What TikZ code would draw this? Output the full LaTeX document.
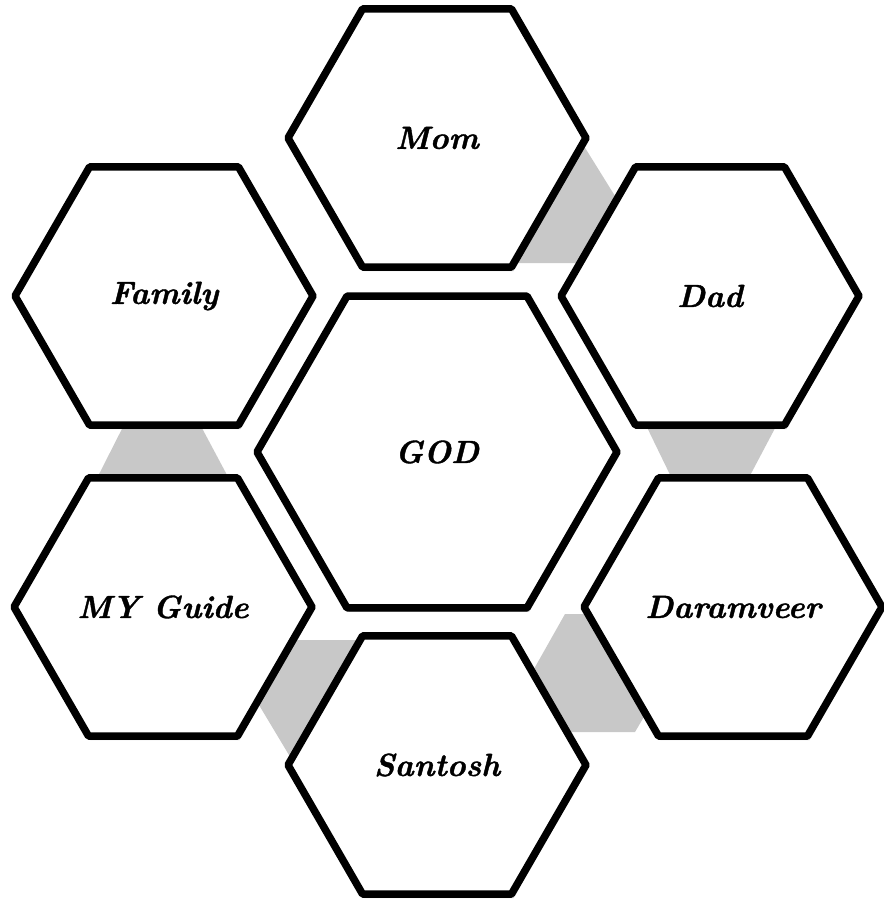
\documentclass[tikz,border=0pt]{standalone}
\usepackage{fontspec}
\newfontfamily\hexfont{lmroman10-bolditalic.otf}[FakeBold=1.2]
\usetikzlibrary{shapes.geometric,shadows}
\definecolor{linkgrey}{HTML}{C8C8C8}
\begin{document}
\begin{tikzpicture}[x=1pt,y=-1pt,
  hexbox/.style={regular polygon, regular polygon sides=6, minimum size=298pt,
    draw=black, line width=7.5pt, line join=round, fill=white, inner sep=0pt, outer sep=0pt,
    font=\hexfont\fontsize{32}{36}\selectfont,
    drop shadow={shadow xshift=2pt, shadow yshift=-4pt, opacity=0.22, fill=black}},
  bighex/.style={hexbox, minimum size=360pt},
  link/.style={fill=linkgrey, draw=none}]
\useasboundingbox (0,0) rectangle (883,899);
% grey links between neighbouring hexagons
\fill[link] (574,130) -- (633,225) -- (600,263) -- (505,263) -- cycle;
\fill[link] (641,415) -- (782,415) -- (745,485) -- (675,485) -- cycle;
\fill[link] (129,415) -- (195,415) -- (235,490) -- (91,490) -- cycle;
\fill[link] (288,640) -- (368,640) -- (295,765) -- (256,700) -- cycle;
\fill[link] (565,614) -- (595,614) -- (645,715) -- (635,732) -- (560,732) -- (530,676) -- cycle;
% hexagons
\node[hexbox] (mom) at (437,138) {Mom};
\node[hexbox] (dad) at (710,296) {Dad};
\node[hexbox] (family) at (164,296) {Family};
\node[hexbox] (guide) at (163,607) {MY Guide};
\node[hexbox] (santosh) at (437,765) {Santosh};
\node[hexbox] (daram) at (733,607) {Daramveer};
\node[bighex] (god) at (437,452) {GOD};
\end{tikzpicture}
\end{document}
